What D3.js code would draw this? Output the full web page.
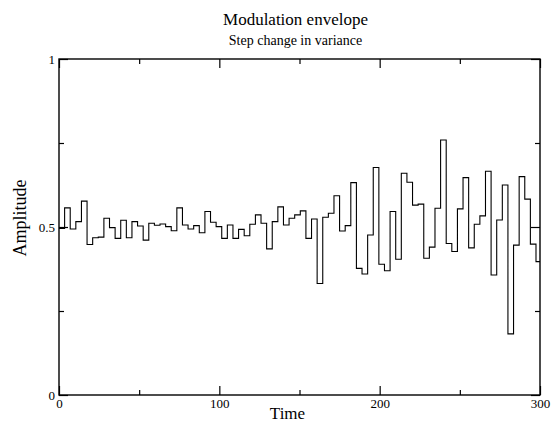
<!DOCTYPE html>
<html>
<head>
<meta charset="utf-8">
<script src="https://cdn.jsdelivr.net/npm/d3@7"></script>
<style>
  html, body { margin: 0; padding: 0; background: #fff; }
  svg { display: block; }
  text { font-family: "Liberation Serif", "Times New Roman", serif; fill: #000; }
</style>
</head>
<body>
<div id="chart"></div>
<script>
// ---- data ----
const titleText = "Modulation envelope";
const subtitleText = "Step change in variance";
const xLabel = "Time";
const yLabel = "Amplitude";
const xDomain = [0, 300];
const yDomain = [0, 1];
const xMajorTicks = [0, 100, 200, 300];
const xMinorTicks = [50, 150, 250];
const yMajorTicks = [0, 0.5, 1];
const yMinorTicks = [0.25, 0.75];
const yTickLabels = ["0", "0.5", "1"];
const stepWidth = 3.5;
const amplitude = [
  0.496, 0.557, 0.494, 0.516, 0.577, 0.448, 0.468, 0.470, 0.526, 0.498,
  0.466, 0.520, 0.468, 0.516, 0.503, 0.461, 0.511, 0.505, 0.509, 0.501,
  0.489, 0.557, 0.506, 0.494, 0.504, 0.483, 0.546, 0.514, 0.501, 0.466,
  0.506, 0.466, 0.493, 0.474, 0.508, 0.536, 0.511, 0.435, 0.516, 0.560,
  0.506, 0.526, 0.536, 0.548, 0.466, 0.524, 0.332, 0.529, 0.541, 0.593,
  0.488, 0.504, 0.632, 0.377, 0.360, 0.476, 0.677, 0.389, 0.370, 0.546,
  0.404, 0.660, 0.633, 0.565, 0.568, 0.407, 0.440, 0.556, 0.759, 0.451,
  0.427, 0.554, 0.647, 0.438, 0.508, 0.533, 0.666, 0.357, 0.521, 0.625,
  0.182, 0.446, 0.650, 0.583, 0.449, 0.397
];
const time = amplitude.map((_, i) => i * stepWidth);

// ---- layout ----
const W = 552, H = 442;
const margin = { left: 59, right: 12, top: 59, bottom: 47 };
const pw = W - margin.left - margin.right;
const ph = H - margin.top - margin.bottom;

const svg = d3.select("#chart").append("svg").attr("width", W).attr("height", H);

const x = d3.scaleLinear().domain(xDomain).range([0, pw]);
const y = d3.scaleLinear().domain(yDomain).range([ph, 0]);

const g = svg.append("g").attr("transform", `translate(${margin.left},${margin.top})`);

g.append("clipPath").attr("id", "clip").append("rect")
  .attr("x", 0).attr("y", 0).attr("width", pw).attr("height", ph);

// data line (step after), last step extends to the right edge
const pts = time.map((t, i) => [t, amplitude[i]]);
pts.push([time[time.length - 1] + stepWidth, amplitude[amplitude.length - 1]]);
const line = d3.line().x(d => x(d[0])).y(d => y(d[1])).curve(d3.curveStepAfter);
g.append("path").datum(pts)
  .attr("clip-path", "url(#clip)")
  .attr("fill", "none").attr("stroke", "#000").attr("stroke-width", 1.1)
  .attr("d", line);

// axes
function styleAxis(sel) {
  sel.select(".domain").remove();
  sel.selectAll(".tick line").attr("stroke", "#000").attr("stroke-width", 1.2);
  sel.selectAll(".tick text").style("font-size", "13px").style("font-family", "Liberation Serif, serif");
}
const major = 9, minor = 5;
g.append("g").attr("transform", `translate(0,${ph})`)
  .call(d3.axisBottom(x).tickValues(xMajorTicks).tickSize(-major).tickPadding(4).tickFormat(d3.format("d")))
  .call(styleAxis);
g.append("g").attr("transform", `translate(0,${ph})`)
  .call(d3.axisBottom(x).tickValues(xMinorTicks).tickSize(-minor).tickFormat(""))
  .call(styleAxis);
g.append("g")
  .call(d3.axisTop(x).tickValues(xMajorTicks).tickSize(-major).tickFormat(""))
  .call(styleAxis);
g.append("g")
  .call(d3.axisTop(x).tickValues(xMinorTicks).tickSize(-minor).tickFormat(""))
  .call(styleAxis);
g.append("g")
  .call(d3.axisLeft(y).tickValues(yMajorTicks).tickSize(-major).tickPadding(4)
    .tickFormat((d, i) => yTickLabels[i]))
  .call(styleAxis);
g.append("g")
  .call(d3.axisLeft(y).tickValues(yMinorTicks).tickSize(-minor).tickFormat(""))
  .call(styleAxis);
g.append("g").attr("transform", `translate(${pw},0)`)
  .call(d3.axisRight(y).tickValues(yMajorTicks).tickSize(-major).tickFormat(""))
  .call(styleAxis);
g.append("g").attr("transform", `translate(${pw},0)`)
  .call(d3.axisRight(y).tickValues(yMinorTicks).tickSize(-minor).tickFormat(""))
  .call(styleAxis);

// frame
g.append("rect").attr("x", 0).attr("y", 0).attr("width", pw).attr("height", ph)
  .attr("fill", "none").attr("stroke", "#000").attr("stroke-width", 1.4);

// titles
svg.append("text").attr("x", margin.left + pw / 2 - 4).attr("y", 25)
  .attr("text-anchor", "middle").style("font-size", "17px").text(titleText);
svg.append("text").attr("x", margin.left + pw / 2 - 4).attr("y", 45)
  .attr("text-anchor", "middle").style("font-size", "14px").text(subtitleText);
svg.append("text").attr("x", margin.left + pw / 2 - 12).attr("y", 419)
  .attr("text-anchor", "middle").style("font-size", "17px").text(xLabel);
svg.append("text").attr("transform", `translate(26,${margin.top + ph / 2 - 9}) rotate(-90)`)
  .attr("text-anchor", "middle").style("font-size", "18px").text(yLabel);
</script>
</body>
</html>
